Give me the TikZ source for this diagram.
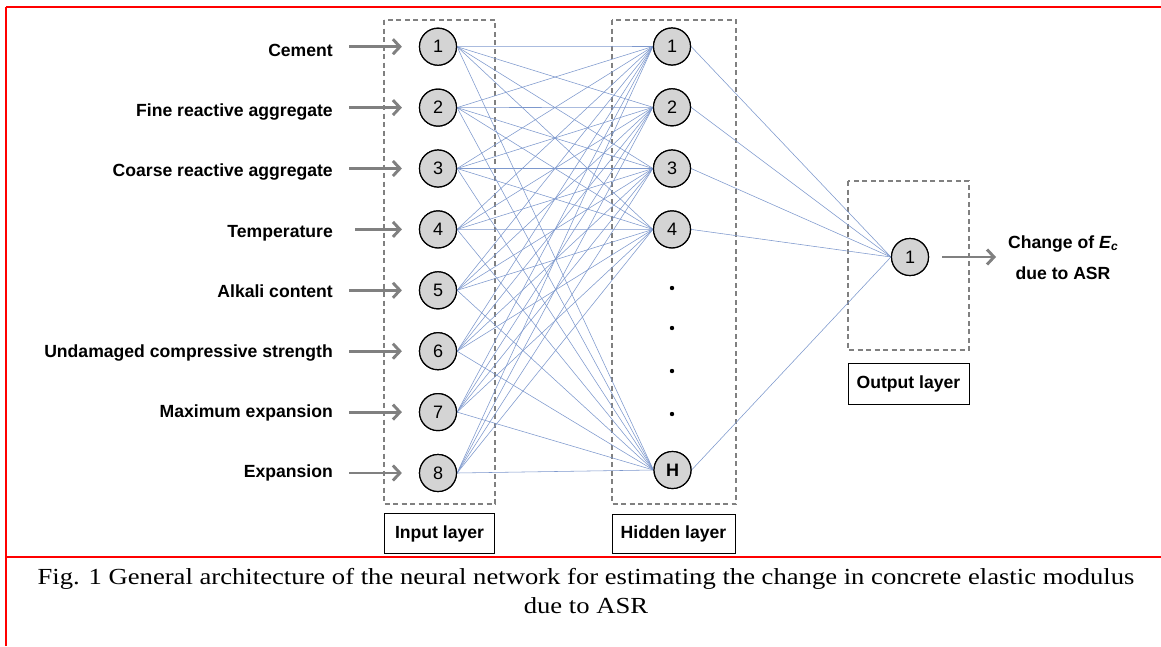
\documentclass[tikz,border=0pt]{standalone}
\usepackage{fontspec}
\setmainfont{Liberation Sans}
\newfontfamily\capfont{Liberation Serif}
\usetikzlibrary{arrows.meta}
\definecolor{linkblue}{RGB}{125,152,205}
\definecolor{boxgrey}{RGB}{128,128,128}
\definecolor{nodegrey}{RGB}{212,212,212}
\definecolor{arrowgrey}{RGB}{128,128,128}
\begin{document}
\begin{tikzpicture}[x=1pt,y=-1pt,
  neuron/.style={circle, draw=black, line width=1.2pt, fill=nodegrey, minimum size=37pt, inner sep=0pt, font=\fontsize{18}{20}\selectfont},
  link/.style={draw=linkblue, line width=0.55pt},
  inarrow/.style={draw=arrowgrey, line width=2.9pt, -{Straight Barb[length=7pt,width=15pt]}},
  layerbox/.style={draw=boxgrey, dash pattern=on 5pt off 3.5pt, line width=1.2pt},
  labelbox/.style={draw=black, line width=1pt, inner sep=0pt, font=\bfseries\fontsize{17.6}{20}\selectfont},
  inlabel/.style={anchor=base east, inner sep=0pt, font=\bfseries\fontsize{17.6}{20}\selectfont},
  outlabel/.style={anchor=base, inner sep=0pt, font=\bfseries\fontsize{17.6}{20}\selectfont},
  caption/.style={anchor=base, inner sep=0pt, font=\capfont\fontsize{23}{26}\selectfont},
  redline/.style={draw=red, line width=2pt}
]
\useasboundingbox (0,0) rectangle (1161,646);
\fill[white] (0,0) rectangle (1161,646);

% red frame lines
\draw[redline] (6,7) -- (1161,7);
\draw[redline] (6,7) -- (6,646);
\draw[redline] (6,557) -- (1161,557);

% layer boxes
\draw[layerbox] (384,20) rectangle (495,504);
\draw[layerbox] (612,20) rectangle (736,504);
\draw[layerbox] (848,181) rectangle (969,350);

% input neurons
\foreach \i in {1,...,8}
  \node[neuron] (i\i) at (438,{46.7+60.9*(\i-1)}) {\i};

% hidden neurons
\foreach \h/\y in {1/46.5,2/107.3,3/168.5,4/229.4}
  \node[neuron] (h\h) at (672,\y) {\h};
\node[neuron, font=\bfseries\fontsize{18}{20}\selectfont] (hH) at (672.5,470) {H};

% output neuron
\node[neuron] (o1) at (910,257) {1};

% dots
\foreach \y in {288,328,371,414}
  \fill (672,\y) circle (2.2);

% links
\foreach \i in {1,...,8}
  \foreach \h in {1,2,3,4,H}
    \draw[link] (i\i.east) -- (h\h.west);
\foreach \h in {1,2,3,4,H}
  \draw[link] (h\h.east) -- (o1.west);

% redraw neurons on top of links
\foreach \i in {1,...,8}
  \node[neuron] at (i\i) {\i};
\foreach \h in {1,2,3,4}
  \node[neuron] at (h\h) {\h};
\node[neuron, font=\bfseries\fontsize{18}{20}\selectfont] at (hH) {H};
\node[neuron] at (o1) {1};

% input labels and arrows
\foreach \i/\t/\s in {
  1/Cement/349,
  2/Fine reactive aggregate/349,
  3/Coarse reactive aggregate/349,
  4/Temperature/355,
  5/Alkali content/349,
  6/Undamaged compressive strength/349,
  7/Maximum expansion/349,
  8/Expansion/349}{
  \node[inlabel] (l\i) at (333,{56.7+60.1*(\i-1)}) {\t};
  \coordinate (a\i) at (\s,{46.7+60.9*(\i-1)});
  \draw[inarrow] (a\i) -- ([xshift=-17pt]i\i.west);
}

% output arrow and label
\coordinate (oend) at (996,257);
\draw[inarrow] ([xshift=13pt]o1.east) -- (oend);
\node[outlabel] (ot1) at (1063,248) {Change of \textit{E}\raisebox{-0.25ex}{\fontsize{12}{13}\selectfont\textit{c}}};
\node[outlabel] (ot2) at (1063,279) {due to ASR};

% layer label boxes
\node[labelbox, minimum width=110pt, minimum height=40pt] (lin) at (439.5,533.5) {Input layer};
\node[labelbox, minimum width=123pt, minimum height=39pt] (lhid) at (673.5,533.5) {Hidden layer};
\node[labelbox, minimum width=121pt, minimum height=41pt] (lout) at (908.5,383.5) {Output layer};

% caption
\node[caption] (cap1) at (586,584) {\scalebox{1.158}[1]{Fig. 1 General architecture of the neural network for estimating the change in concrete elastic modulus}};
\node[caption] (cap2) at (586,613) {\scalebox{1.158}[1]{due to ASR}};
\end{tikzpicture}
\end{document}
